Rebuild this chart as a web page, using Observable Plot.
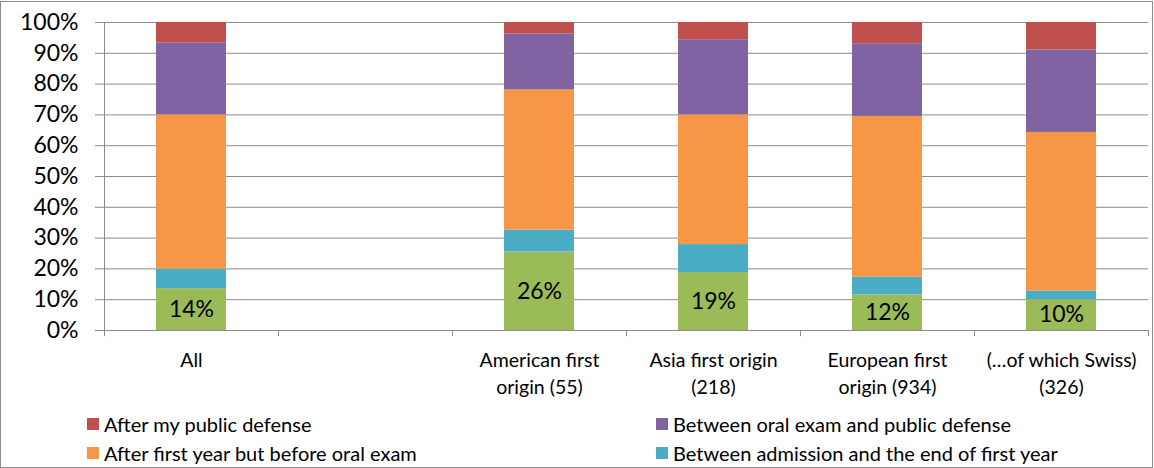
<!DOCTYPE html>
<html>
<head>
<meta charset="utf-8">
<script src="https://cdn.jsdelivr.net/npm/d3@7"></script>
<script src="https://cdn.jsdelivr.net/npm/@observablehq/plot@0.6"></script>
<style>
  html, body { margin: 0; padding: 0; background: #fff; }
  body { font-family: Lato, "Open Sans", sans-serif; color: #000; }
  #frame { position: absolute; left: 0; top: 1px; width: 1153px; height: 467px; box-sizing: border-box; border: 1px solid #8c8c8c; }
  #chart { position: absolute; left: 0; top: 0; }
  #legend { position: absolute; left: 0; top: 0; width: 100%; height: 100%; pointer-events: none; }
  .item { position: absolute; display: flex; align-items: center; font-size: 20px; white-space: nowrap; }
  .sw { width: 12px; height: 12px; margin-right: 5px; flex: none; }
</style>
</head>
<body>
<div id="frame"><div id="chart"></div><div id="legend"></div></div>
<script>
// ---- data ----
const categories = ["All", "", "American first\norigin (55)", "Asia first origin\n(218)", "European first\norigin (934)", "(…of which Swiss)\n(326)"];
const seriesNames = [
  "Before admission",
  "Between admission and the end of first year",
  "After first year but before oral exam",
  "Between oral exam and public defense",
  "After my public defense"
];
const seriesColors = ["#9BBB59", "#4BACC6", "#F79646", "#8064A2", "#C0504D"];
const beforeAdmission = [13.6, null, 25.5, 18.8, 11.6, 10.0];
const admissionToFirstYear = [6.3, null, 7.1, 9.1, 5.7, 2.8];
const firstYearToOral = [50.1, null, 45.5, 42.1, 52.2, 51.5];
const oralToDefense = [23.4, null, 18.2, 24.4, 23.6, 26.8];
const afterDefense = [6.6, null, 3.7, 5.6, 6.9, 8.9];
const yTicks = [0, 10, 20, 30, 40, 50, 60, 70, 80, 90, 100];
const legendOrder = [
  "After my public defense",
  "Between oral exam and public defense",
  "After first year but before oral exam",
  "Between admission and the end of first year"
];

// ---- table ----
const seriesValues = [beforeAdmission, admissionToFirstYear, firstYearToOral, oralToDefense, afterDefense];
const rows = [];
seriesNames.forEach((s, si) => {
  categories.forEach((c, ci) => {
    const v = seriesValues[si][ci];
    if (v != null) rows.push({category: c, series: s, order: si, value: v / 100});
  });
});
const labelRows = rows.filter(d => d.order === 0);

const W = 1151, H = 400;
const mL = 103, mR = 4, mT = 20, mB = 72;
const step = (W - mL - mR) / categories.length;
const grid = "#8c8c8c";

const chart = Plot.plot({
  width: W, height: H,
  marginLeft: mL, marginRight: mR, marginTop: mT, marginBottom: mB,
  style: {fontFamily: "Lato, 'Open Sans', sans-serif", color: "#000", background: "transparent"},
  x: {domain: categories, paddingInner: 0.6, paddingOuter: 0.3, label: null},
  y: {domain: [0, 1], label: null},
  color: {domain: seriesNames, range: seriesColors},
  marks: [
    Plot.gridY(yTicks.map(d => d / 100), {stroke: grid, strokeOpacity: 1, strokeWidth: 1}),
    Plot.frame({anchor: "left", stroke: grid, strokeWidth: 1}),
    Plot.axisY(yTicks.map(d => d / 100), {
      tickFormat: d => Math.round(d * 100) + "%",
      tickSize: 9, tickPadding: 17, fontSize: 23, stroke: grid, fill: "#000", label: null
    }),
    Plot.ruleX(categories, {x: d => d, dx: -step / 2, y1: 0, y2: -0.02, stroke: grid}),
    Plot.ruleX(categories.slice(-1), {x: d => d, dx: step / 2, y1: 0, y2: -0.02, stroke: grid}),
    Plot.axisX({tickSize: 0, tickPadding: 17, fontSize: 19.5, lineHeight: 1.38, fill: "#000", label: null}),
    Plot.barY(rows, Plot.stackY({x: "category", y: "value", fill: "series", order: seriesNames})),
    Plot.text(labelRows, {
      x: "category", y: d => d.value / 2,
      text: d => Math.round(d.value * 100) + "%",
      fontSize: 23, fill: "#000"
    })
  ]
});
document.getElementById("chart").appendChild(chart);

// ---- legend (HTML, below plot area) ----
const colorOf = Object.fromEntries(seriesNames.map((s, i) => [s, seriesColors[i]]));
const legendPos = [[86, 422], [655, 422], [86, 451], [655, 451]];
const legend = document.getElementById("legend");
legendOrder.forEach((name, i) => {
  const el = document.createElement("div");
  el.className = "item";
  el.style.left = legendPos[i][0] + "px";
  el.style.top = (legendPos[i][1] - 13) + "px";
  el.style.height = "26px";
  const sw = document.createElement("span");
  sw.className = "sw";
  sw.style.background = colorOf[name];
  const t = document.createElement("span");
  t.textContent = name;
  el.appendChild(sw); el.appendChild(t);
  legend.appendChild(el);
});
</script>
</body>
</html>
